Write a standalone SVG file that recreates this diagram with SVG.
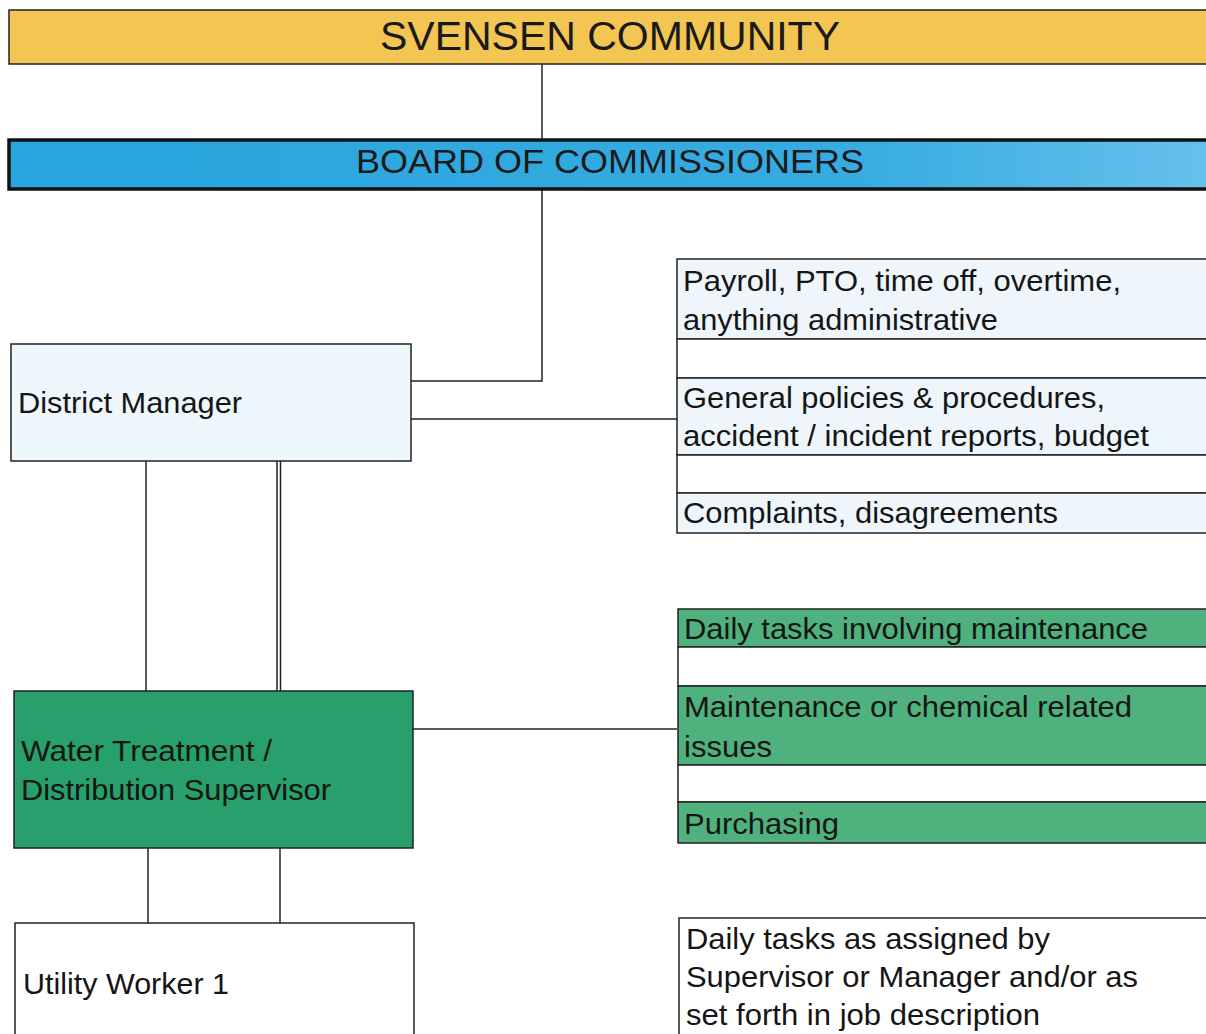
<svg xmlns="http://www.w3.org/2000/svg" width="1206" height="1034" viewBox="0 0 1206 1034">
  <defs>
    <linearGradient id="boardFill" x1="0" y1="0" x2="1" y2="0">
      <stop offset="0" stop-color="#27a5dd"/>
      <stop offset="0.7" stop-color="#36ace1"/>
      <stop offset="1" stop-color="#68c1ec"/>
    </linearGradient>
    <style>
      .box { stroke: #222; stroke-width: 1.5; }
      .wire { fill: none; stroke: #222; stroke-width: 1.5; }
      .lbl { font-family: "Liberation Sans", Arial, sans-serif; font-size: 29.5px; fill: #151515; }
      .head { font-family: "Liberation Sans", Arial, sans-serif; fill: #1a1a1a; }
      .pale { fill: #eef6fb; }
      .leaf { fill: #4fb17d; }
      .gap { fill: #ffffff; }
    </style>
  </defs>
  <rect width="1206" height="1034" fill="#ffffff"/>

  <!-- connectors -->
  <g id="connectors">
    <line class="wire" x1="542" y1="64" x2="542" y2="140"/>
    <polyline class="wire" points="542,189 542,381 411,381"/>
    <line class="wire" x1="411" y1="419" x2="677" y2="419"/>
    <line class="wire" x1="146" y1="461" x2="146" y2="691"/>
    <line class="wire" x1="277" y1="461" x2="277" y2="691"/>
    <line class="wire" x1="280.5" y1="461" x2="280.5" y2="691"/>
    <line class="wire" x1="413" y1="729" x2="677" y2="729"/>
    <line class="wire" x1="148" y1="848" x2="148" y2="923"/>
    <line class="wire" x1="280" y1="848" x2="280" y2="923"/>
  </g>

  <!-- community -->
  <g id="community">
    <rect class="box" x="9" y="10" width="1210" height="54" fill="#f3c552" stroke-width="2"/>
    <text class="head" x="380" y="50" font-size="40" textLength="460" lengthAdjust="spacingAndGlyphs">SVENSEN COMMUNITY</text>
  </g>

  <!-- board -->
  <g id="board">
    <rect x="9" y="140" width="1210" height="49" fill="url(#boardFill)" stroke="#111" stroke-width="3.5"/>
    <text class="head" x="356" y="173" font-size="34" textLength="508" lengthAdjust="spacingAndGlyphs">BOARD OF COMMISSIONERS</text>
  </g>

  <!-- district manager -->
  <g id="district-manager">
    <rect class="box" x="11" y="344" width="400" height="117" fill="#eef7fc"/>
    <text class="lbl" x="18" y="413" textLength="224" lengthAdjust="spacingAndGlyphs">District Manager</text>
  </g>

  <!-- manager duties -->
  <g id="manager-duties">
    <rect class="box pale" x="677" y="259" width="540" height="80"/>
    <rect class="box gap" x="677" y="339" width="540" height="39"/>
    <rect class="box pale" x="677" y="378" width="540" height="77"/>
    <rect class="box gap" x="677" y="455" width="540" height="38"/>
    <rect class="box pale" x="677" y="493" width="540" height="40"/>
    <text class="lbl" x="683" y="291" textLength="438" lengthAdjust="spacingAndGlyphs">Payroll, PTO, time off, overtime,</text>
    <text class="lbl" x="683" y="330" textLength="315" lengthAdjust="spacingAndGlyphs">anything administrative</text>
    <text class="lbl" x="683" y="408" textLength="422" lengthAdjust="spacingAndGlyphs">General policies &amp; procedures,</text>
    <text class="lbl" x="683" y="446" textLength="466" lengthAdjust="spacingAndGlyphs">accident / incident reports, budget</text>
    <text class="lbl" x="683" y="523" textLength="375" lengthAdjust="spacingAndGlyphs">Complaints, disagreements</text>
  </g>

  <!-- supervisor -->
  <g id="supervisor">
    <rect class="box" x="14" y="691" width="399" height="157" fill="#27a06b"/>
    <text class="lbl" x="21" y="761" textLength="251" lengthAdjust="spacingAndGlyphs">Water Treatment /</text>
    <text class="lbl" x="21" y="800" textLength="310" lengthAdjust="spacingAndGlyphs">Distribution Supervisor</text>
  </g>

  <!-- supervisor duties -->
  <g id="supervisor-duties">
    <rect class="box leaf" x="678" y="609" width="540" height="38"/>
    <rect class="box gap" x="678" y="647" width="540" height="39"/>
    <rect class="box leaf" x="678" y="686" width="540" height="79"/>
    <rect class="box gap" x="678" y="765" width="540" height="37"/>
    <rect class="box leaf" x="678" y="802" width="540" height="41"/>
    <text class="lbl" x="684" y="639" textLength="464" lengthAdjust="spacingAndGlyphs">Daily tasks involving maintenance</text>
    <text class="lbl" x="684" y="717" textLength="448" lengthAdjust="spacingAndGlyphs">Maintenance or chemical related</text>
    <text class="lbl" x="684" y="757" textLength="88" lengthAdjust="spacingAndGlyphs">issues</text>
    <text class="lbl" x="684" y="834" textLength="155" lengthAdjust="spacingAndGlyphs">Purchasing</text>
  </g>

  <!-- utility worker -->
  <g id="utility-worker">
    <rect class="box" x="15" y="923" width="399" height="130" fill="#ffffff"/>
    <text class="lbl" x="23" y="994" textLength="206" lengthAdjust="spacingAndGlyphs">Utility Worker 1</text>
  </g>

  <!-- worker duties -->
  <g id="worker-duties">
    <rect class="box" x="679" y="918" width="540" height="135" fill="#ffffff"/>
    <text class="lbl" x="686" y="949" textLength="364" lengthAdjust="spacingAndGlyphs">Daily tasks as assigned by</text>
    <text class="lbl" x="686" y="987" textLength="452" lengthAdjust="spacingAndGlyphs">Supervisor or Manager and/or as</text>
    <text class="lbl" x="686" y="1025" textLength="354" lengthAdjust="spacingAndGlyphs">set forth in job description</text>
  </g>
</svg>
